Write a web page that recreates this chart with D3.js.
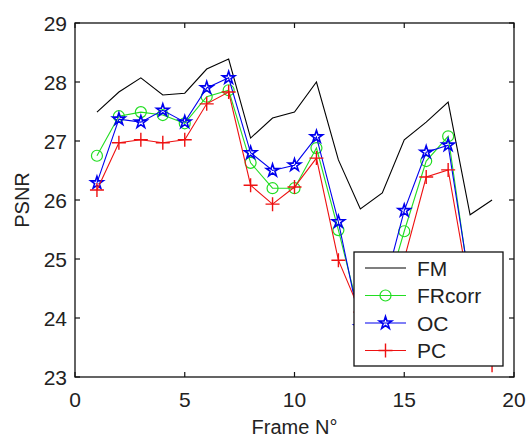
<!DOCTYPE html>
<html>
<head>
<meta charset="utf-8">
<script src="https://cdn.jsdelivr.net/npm/d3@7"></script>
<style>
  body { margin: 0; background: #fff; }
  svg text { font-family: "Liberation Sans", Arial, sans-serif; fill: #222; }
</style>
</head>
<body>
<div id="chart"></div>
<script>
// data
const frames = [1, 2, 3, 4, 5, 6, 7, 8, 9, 10, 11, 12, 13, 14, 15, 16, 17, 18, 19];
const fm     = [27.49, 27.83, 28.07, 27.78, 27.81, 28.22, 28.39, 27.05, 27.39, 27.49, 28.0, 26.68, 25.85, 26.12, 27.02, 27.32, 27.66, 25.75, 26.0];
const frcorr = [26.75, 27.42, 27.49, 27.44, 27.3, 27.75, 27.86, 26.63, 26.2, 26.2, 26.88, 25.49, 24.0, 24.2, 25.47, 26.66, 27.08, 24.5, 23.6];
const oc     = [26.29, 27.37, 27.32, 27.52, 27.32, 27.9, 28.07, 26.8, 26.5, 26.59, 27.07, 25.63, 23.85, 24.4, 25.82, 26.81, 26.93, 24.55, 23.5];
const pc     = [26.17, 26.97, 27.02, 26.97, 27.02, 27.63, 27.83, 26.25, 25.93, 26.22, 26.71, 24.98, 24.1, 24.0, 25.0, 26.39, 26.51, 24.4, 23.2];
const xTicks = [0, 5, 10, 15, 20];
const yTicks = [23, 24, 25, 26, 27, 28, 29];
const names = ["FM", "FRcorr", "OC", "PC"];

const W = 529, H = 437;
const mLeft = 75, mRight = 514, mTop = 23, mBottom = 377;

const svg = d3.select("#chart").append("svg")
  .attr("width", W).attr("height", H);

const x = d3.scaleLinear().domain([0, 20]).range([mLeft, mRight]);
const y = d3.scaleLinear().domain([23, 29]).range([mBottom, mTop]);

// ticks inward on all four sides
const tickLen = 5;
const ax = svg.append("g").attr("stroke", "#111").attr("stroke-width", 1.2);
xTicks.forEach(t => {
  ax.append("line").attr("x1", x(t)).attr("x2", x(t)).attr("y1", mBottom).attr("y2", mBottom - tickLen);
  ax.append("line").attr("x1", x(t)).attr("x2", x(t)).attr("y1", mTop).attr("y2", mTop + tickLen);
});
yTicks.forEach(t => {
  ax.append("line").attr("x1", mLeft).attr("x2", mLeft + tickLen).attr("y1", y(t)).attr("y2", y(t));
  ax.append("line").attr("x1", mRight).attr("x2", mRight - tickLen).attr("y1", y(t)).attr("y2", y(t));
});

svg.selectAll(".xl").data(xTicks).enter().append("text")
  .attr("x", d => x(d)).attr("y", mBottom + 30)
  .attr("text-anchor", "middle").attr("font-size", 21)
  .text(d => d);
svg.selectAll(".yl").data(yTicks).enter().append("text")
  .attr("x", mLeft - 8).attr("y", d => y(d) + 7.5)
  .attr("text-anchor", "end").attr("font-size", 21)
  .text(d => d);

svg.append("text").attr("x", (mLeft + mRight) / 2).attr("y", 434)
  .attr("text-anchor", "middle").attr("font-size", 20).text("Frame N°");
svg.append("text").attr("transform", "translate(29," + ((mTop + mBottom) / 2) + ") rotate(-90)")
  .attr("text-anchor", "middle").attr("font-size", 20).text("PSNR");

const line = d3.line().x((d, i) => x(frames[i])).y(d => y(d));
const plot = svg.append("g");

function plusPath(cx, cy, r) {
  return "M" + (cx - r) + "," + cy + "H" + (cx + r) + "M" + cx + "," + (cy - r) + "V" + (cy + r);
}

const series = [
  { vals: fm, color: "#000000", marker: null },
  { vals: frcorr, color: "#22dd22", marker: "circle" },
  { vals: oc, color: "#0000ee", marker: "star" },
  { vals: pc, color: "#ee1111", marker: "plus" }
];

function drawMarker(g, kind, cx, cy, color) {
  if (kind === "circle") {
    g.append("circle").attr("cx", cx).attr("cy", cy).attr("r", 5.5)
      .attr("fill", "none").attr("stroke", color).attr("stroke-width", 1.2);
  } else if (kind === "star") {
    g.append("path").attr("d", d3.symbol().type(d3.symbolStar).size(48)())
      .attr("transform", "translate(" + cx + "," + cy + ")")
      .attr("fill", "none").attr("stroke", color).attr("stroke-width", 1.6);
  } else if (kind === "plus") {
    g.append("path").attr("d", plusPath(cx, cy, 7))
      .attr("fill", "none").attr("stroke", color).attr("stroke-width", 1.4);
  }
}

series.forEach(s => {
  plot.append("path").datum(s.vals).attr("d", line)
    .attr("fill", "none").attr("stroke", s.color).attr("stroke-width", 1.1);
  if (s.marker) {
    s.vals.forEach((v, i) => drawMarker(plot, s.marker, x(frames[i]), y(v), s.color));
  }
});

// plot box
svg.append("rect").attr("x", mLeft).attr("y", mTop)
  .attr("width", mRight - mLeft).attr("height", mBottom - mTop)
  .attr("fill", "none").attr("stroke", "#111").attr("stroke-width", 1.3);

// legend
const lg = svg.append("g").attr("transform", "translate(354,252)");
lg.append("rect").attr("width", 149).attr("height", 114)
  .attr("fill", "#fff").attr("stroke", "#111").attr("stroke-width", 1.3);
names.forEach((n, i) => {
  const ly = 16 + i * 27.5;
  const s = series[i];
  lg.append("line").attr("x1", 11).attr("x2", 52).attr("y1", ly).attr("y2", ly)
    .attr("stroke", s.color).attr("stroke-width", 1.2);
  drawMarker(lg, s.marker, 31.5, ly, s.color);
  lg.append("text").attr("x", 63).attr("y", ly + 7.5).attr("font-size", 21).text(n);
});
</script>
</body>
</html>
